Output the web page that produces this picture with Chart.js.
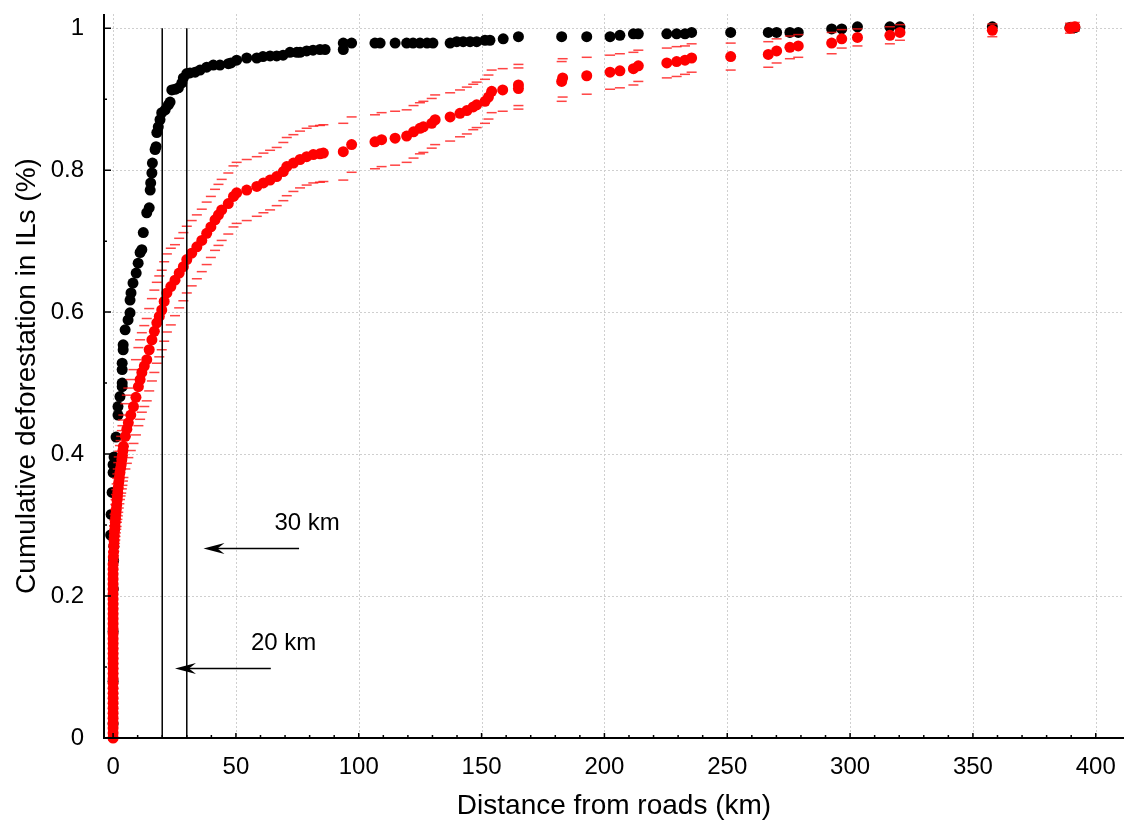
<!DOCTYPE html>
<html>
<head>
<meta charset="utf-8">
<script src="https://cdn.jsdelivr.net/npm/chart.js@4.4.0/dist/chart.umd.min.js"></script>
<style>
  html, body { margin: 0; padding: 0; background: #fff; }
  #wrap { width: 1124px; height: 824px; }
</style>
</head>
<body>
<div id="wrap"><canvas id="chart" width="1124" height="824"></canvas></div>
<script>
const FONT = "Arial, 'Liberation Sans', sans-serif";

// axis ticks
const xTicks = [0, 50, 100, 150, 200, 250, 300, 350, 400];
const xLabels = ['0', '50', '100', '150', '200', '250', '300', '350', '400'];
const xMinor = [10, 20, 30, 40, 60, 70, 80, 90, 110, 120, 130, 140, 160, 170, 180, 190,
  210, 220, 230, 240, 260, 270, 280, 290, 310, 320, 330, 340, 360, 370, 380, 390];
const yTicks = [0, 0.2, 0.4, 0.6, 0.8, 1];
const yLabels = ['0', '0.2', '0.4', '0.6', '0.8', '1'];
const yMinor = [0.1, 0.3, 0.5, 0.7, 0.9];

// black series
const blackX = [
  0, 0, 0, 0.1, 0.2, 0.3, -1.0, -0.8, -0.4, 0,
  0, 0.4, 1.2, 2.0, 2.0, 2.8, 3.7, 3.7, 3.7, 3.7,
  4.1, 4.1, 4.9, 6.1, 6.9, 6.9, 7.3, 8.1, 9.4, 10.2,
  11.0, 11.7, 12.3, 13.7, 14.7, 15.1, 15.3, 15.8, 16.0, 17.1,
  17.5, 17.8, 18.4, 19.1, 19.8, 21.2, 22.5, 23.2, 23.9, 25.2,
  26.6, 28.0, 28.6, 30.0, 31.3, 33.4, 35.4, 38.1, 40.8, 43.5,
  46.9, 48.0, 50.3, 54.4, 58.5, 61.0, 63.9, 66.6, 69.2, 72.0,
  74.8, 76.1, 78.8, 81.4, 84.2, 86.3, 93.7, 93.7, 97.1, 106.6,
  108.7, 114.8, 119.5, 122.1, 124.9, 127.8, 130.2, 137.2, 139.9, 142.5,
  145.3, 148.0, 151.4, 153.4, 158.8, 165.0, 182.6, 192.8, 202.3, 206.3,
  211.8, 213.8, 225.4, 229.4, 232.8, 235.5, 251.4, 266.7, 270.1, 275.5,
  278.9, 292.5, 296.6, 303.0, 316.2, 320.3, 357.9, 389.5, 391.5
];
const blackY = [
  0.02, 0.08, 0.15, 0.21, 0.25, 0.27, 0.286, 0.315, 0.346, 0.374,
  0.385, 0.396, 0.424, 0.455, 0.467, 0.481, 0.495, 0.500, 0.519, 0.528,
  0.547, 0.554, 0.575, 0.589, 0.599, 0.617, 0.627, 0.641, 0.655, 0.669,
  0.684, 0.688, 0.712, 0.740, 0.747, 0.772, 0.782, 0.796, 0.810, 0.829,
  0.833, 0.853, 0.861, 0.871, 0.881, 0.885, 0.892, 0.896, 0.913, 0.914,
  0.916, 0.923, 0.930, 0.936, 0.937, 0.938, 0.941, 0.945, 0.948, 0.948,
  0.950, 0.951, 0.955, 0.958, 0.958, 0.960, 0.961, 0.961, 0.962, 0.966,
  0.966, 0.966, 0.968, 0.969, 0.970, 0.970, 0.970, 0.979, 0.979, 0.979,
  0.979, 0.979, 0.979, 0.979, 0.979, 0.979, 0.979, 0.979, 0.981, 0.981,
  0.981, 0.981, 0.983, 0.983, 0.985, 0.988, 0.988, 0.988, 0.988, 0.990,
  0.992, 0.992, 0.992, 0.992, 0.992, 0.994, 0.994, 0.994, 0.994, 0.994,
  0.994, 0.999, 0.999, 1.002, 1.002, 1.002, 1.002, 1.001, 1.001
];

// red series with confidence bounds (half-width)
const redX = [
  0, 0, 0, 0, 0, 0, 0, 0, 0, 0,
  0, 0, 0, 0, 0, 0, 0, 0, 0, 0,
  0, 0, 0, 0, 0, 0, 0, 0, 0, 0,
  0, 0, 0, 0, 0, 0,
  0.1, 0.2, 0.3, 0.4, 0.5, 0.6, 0.8, 0.9, 1.0, 1.15,
  1.3, 1.45, 1.6, 1.75, 1.9, 2.1, 2.3, 2.55, 2.8, 3.05,
  3.3, 3.55, 3.8, 4.0, 4.2,
  5.0, 5.6, 6.2, 7.2, 8.3, 9.3, 10.3, 11.0, 11.7, 12.7,
  13.7, 14.7, 15.8, 16.8, 17.8, 18.8, 19.8, 20.8, 21.9, 23.5,
  25.2, 26.9, 28.6, 30.0, 32.0, 34.1, 36.1, 38.1, 39.8, 41.5,
  42.9, 44.2, 46.9, 49.0, 50.3, 54.4, 58.5, 61.2, 63.9, 66.6,
  69.3, 70.7, 73.4, 76.1, 78.8, 81.5, 84.2, 85.6, 93.7, 97.1,
  106.6, 109.3, 114.8, 119.5, 122.3, 124.9, 126.3, 129.7, 131.1, 137.2,
  141.2, 144.0, 146.6, 148.0, 151.4, 152.8, 154.1, 158.6, 165.0, 165.0,
  182.6, 183.0, 192.8, 202.3, 206.3, 211.8, 213.8, 225.4, 229.4, 232.8,
  235.5, 251.4, 266.7, 270.1, 275.5, 278.9, 292.5, 296.6, 303.0, 316.2,
  320.3, 357.9, 389.5, 391.5
];
const redY = [
  0, .007, .014, .021, .028, .035, .042, .049, .056, .063,
  .070, .077, .084, .091, .098, .105, .112, .119, .126, .133,
  .140, .147, .154, .161, .168, .175, .182, .189, .196, .203,
  .210, .217, .224, .231, .238, .245,
  .255, .262, .270, .278, .285, .292, .298, .304, .310, .316,
  .322, .328, .335, .340, .346, .353, .360, .367, .374, .380,
  .385, .392, .398, .405, .411,
  0.425, 0.435, 0.444, 0.455, 0.467, 0.48, 0.495, 0.505, 0.515, 0.524,
  0.533, 0.547, 0.561, 0.573, 0.585, 0.594, 0.603, 0.615, 0.627, 0.636,
  0.645, 0.655, 0.664, 0.674, 0.683, 0.692, 0.701, 0.711, 0.720, 0.730,
  0.737, 0.744, 0.753, 0.763, 0.768, 0.772, 0.777, 0.782, 0.786, 0.791,
  0.798, 0.805, 0.810, 0.815, 0.819, 0.822, 0.823, 0.824, 0.826, 0.836,
  0.840, 0.843, 0.845, 0.848, 0.854, 0.859, 0.861, 0.866, 0.871, 0.875,
  0.880, 0.884, 0.889, 0.892, 0.897, 0.903, 0.911, 0.913, 0.915, 0.920,
  0.925, 0.930, 0.933, 0.938, 0.940, 0.943, 0.947, 0.951, 0.953, 0.955,
  0.958, 0.960, 0.963, 0.968, 0.973, 0.975, 0.979, 0.985, 0.987, 0.990,
  0.994, 0.997, 1.000, 1.002
];
const redErr = [
  .003, .003, .003, .004, .004, .004, .005, .005, .005, .006,
  .006, .006, .007, .007, .007, .008, .008, .008, .009, .009,
  .010, .010, .010, .011, .011, .012, .012, .013, .013, .014,
  .014, .015, .015, .016, .016, .017,
  .018, .019, .020, .021, .022, .023, .024, .025, .026, .027,
  .028, .030, .031, .032, .033, .035, .036, .037, .038, .039,
  .040, .041, .042, .043, .044,
  .046, .048, .049, .050, .052, .053, .055, .056, .056, .057,
  .058, .058, .058, .058, .057, .057, .056, .056, .055, .054,
  .050, .049, .048, .047, .046, .045, .044, .044, .043, .043,
  .043, .043, .043, .043, .043, .043, .042, .042, .042, .041,
  .041, .041, .040, .040, .040, .040, .040, .040, .040, .039,
  .038, .038, .038, .037, .037, .036, .036, .035, .035, .034,
  .033, .033, .032, .032, .031, .031, .030, .030, .029, .029,
  .028, .027, .026, .024, .024, .023, .022, .021, .021, .020,
  .020, .019, .018, .017, .016, .016, .015, .013, .012, .012,
  .011, .009, .007, .006
];

// reference lines and annotations
const refLines = [20, 30];
const arrowY = [0.267, 0.098];
const arrowTail = [75.7, 64.2];
const arrowTip = [36.8, 25.2];
const arrowText = ['30 km', '20 km'];
const arrowTextX = [79.0, 69.4];
const arrowTextY = [0.302, 0.134];

const pts = (xs, ys) => xs.map((v, i) => ({ x: v, y: ys[i] }));

const frame = {
  id: 'frame',
  beforeDatasetsDraw(chart) {
    const { ctx, chartArea: a, scales: { x, y } } = chart;
    ctx.save();
    ctx.strokeStyle = '#cfcfcf';
    ctx.lineWidth = 1;
    ctx.setLineDash([2, 2]);
    ctx.beginPath();
    xTicks.forEach(v => {
      const p = Math.round(x.getPixelForValue(v)) + 0.5;
      ctx.moveTo(p, a.top); ctx.lineTo(p, a.bottom);
    });
    yTicks.forEach(v => {
      const p = Math.round(y.getPixelForValue(v)) + 0.5;
      ctx.moveTo(a.left, p); ctx.lineTo(a.right, p);
    });
    ctx.stroke();
    ctx.restore();
  },
  afterDatasetsDraw(chart) {
    const { ctx, chartArea: a, scales: { x, y } } = chart;
    ctx.save();
    ctx.strokeStyle = '#000';
    ctx.fillStyle = '#000';
    ctx.lineWidth = 2;
    ctx.beginPath();
    ctx.moveTo(a.left, a.top);
    ctx.lineTo(a.left, a.bottom);
    ctx.lineTo(a.right, a.bottom);
    ctx.stroke();

    // inward ticks
    ctx.lineWidth = 1.5;
    ctx.beginPath();
    xTicks.forEach(v => { const p = x.getPixelForValue(v); ctx.moveTo(p, a.bottom); ctx.lineTo(p, a.bottom - 5); });
    xMinor.forEach(v => { const p = x.getPixelForValue(v); ctx.moveTo(p, a.bottom); ctx.lineTo(p, a.bottom - 3); });
    yTicks.forEach(v => { const p = y.getPixelForValue(v); ctx.moveTo(a.left, p); ctx.lineTo(a.left + 7, p); });
    yMinor.forEach(v => { const p = y.getPixelForValue(v); ctx.moveTo(a.left, p); ctx.lineTo(a.left + 3, p); });
    ctx.stroke();

    // arrows
    arrowY.forEach((v, i) => {
      const py = y.getPixelForValue(v);
      const tx = x.getPixelForValue(arrowTip[i]);
      const fx = x.getPixelForValue(arrowTail[i]);
      ctx.lineWidth = 1.5;
      ctx.beginPath();
      ctx.moveTo(fx, py); ctx.lineTo(tx + 10, py);
      ctx.stroke();
      ctx.beginPath();
      ctx.moveTo(tx, py);
      ctx.lineTo(tx + 21, py - 5.5);
      ctx.lineTo(tx + 14, py);
      ctx.lineTo(tx + 21, py + 5.5);
      ctx.closePath();
      ctx.fill();
    });

    ctx.font = '24px ' + FONT;
    ctx.textAlign = 'center';
    ctx.textBaseline = 'middle';
    arrowText.forEach((t, i) => {
      ctx.fillText(t, x.getPixelForValue(arrowTextX[i]), y.getPixelForValue(arrowTextY[i]));
    });
    ctx.restore();
  }
};

const datasets = [];
refLines.forEach(v => datasets.push({
  type: 'line',
  data: [{ x: v, y: 0 }, { x: v, y: 1 }],
  borderColor: '#000',
  borderWidth: 1.5,
  pointRadius: 0,
  showLine: true,
  clip: false
}));
datasets.push({
  data: pts(redX, redY),
  backgroundColor: '#ff0000',
  borderWidth: 0,
  pointRadius: 5.5,
  clip: false
});
datasets.push({
  data: pts(redX, redY.map((v, i) => v + redErr[i])),
  pointStyle: 'line',
  borderColor: 'rgba(255,20,20,0.8)',
  borderWidth: 1.5,
  pointRadius: 5,
  clip: false
});
datasets.push({
  data: pts(redX, redY.map((v, i) => v - redErr[i])),
  pointStyle: 'line',
  borderColor: 'rgba(255,20,20,0.8)',
  borderWidth: 1.5,
  pointRadius: 5,
  clip: false
});
datasets.push({
  data: pts(blackX, blackY),
  backgroundColor: '#000',
  borderWidth: 0,
  pointRadius: 5.5,
  clip: false
});

new Chart(document.getElementById('chart'), {
  type: 'scatter',
  data: { datasets },
  options: {
    responsive: false,
    animation: false,
    events: [],
    layout: { autoPadding: false, padding: { top: 14, right: 0, left: 0, bottom: 0 } },
    plugins: { legend: { display: false }, tooltip: { enabled: false } },
    scales: {
      x: {
        type: 'linear',
        min: -3.7,
        max: 411.5,
        afterBuildTicks: s => { s.ticks = xTicks.map(v => ({ value: v })); },
        afterFit: s => { s.height = 86; s.paddingLeft = 0; s.paddingRight = 0; },
        grid: { display: false },
        border: { display: false },
        ticks: {
          padding: 7,
          color: '#000',
          font: { family: FONT, size: 24 },
          maxRotation: 0,
          callback: (v, i) => xLabels[i]
        },
        title: {
          display: true,
          text: 'Distance from roads (km)',
          color: '#000',
          font: { family: FONT, size: 28 },
          padding: { top: 0, bottom: 1 }
        }
      },
      y: {
        type: 'linear',
        min: 0,
        max: 1.02,
        afterBuildTicks: s => { s.ticks = yTicks.map(v => ({ value: v })); },
        afterFit: s => { s.width = 104; s.paddingTop = 0; s.paddingBottom = 0; },
        grid: { display: false },
        border: { display: false },
        ticks: {
          padding: 12,
          color: '#000',
          font: { family: FONT, size: 24 },
          callback: (v, i) => yLabels[i]
        },
        title: {
          display: true,
          text: 'Cumulative deforestation in ILs (%)',
          color: '#000',
          font: { family: FONT, size: 28 },
          padding: { top: 10, bottom: 0 }
        }
      }
    }
  },
  plugins: [frame]
});
</script>
</body>
</html>
